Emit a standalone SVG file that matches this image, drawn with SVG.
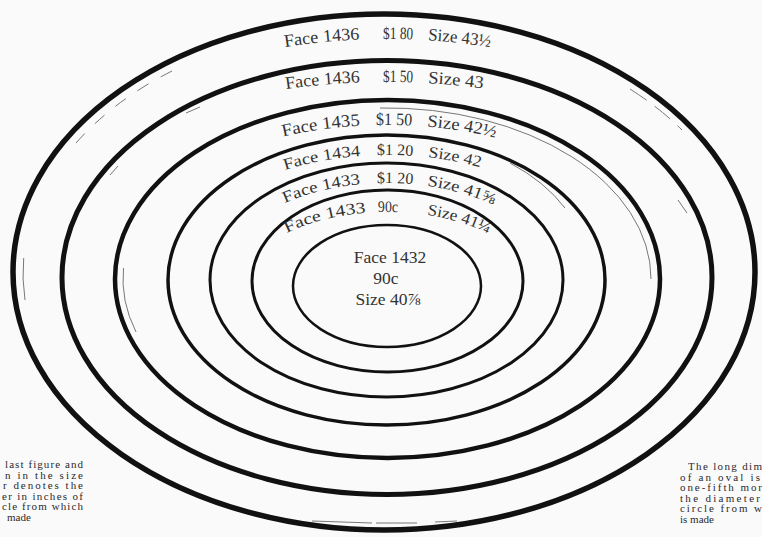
<svg xmlns="http://www.w3.org/2000/svg" width="762" height="537" viewBox="0 0 762 537">
<style>
.ring{fill:none;stroke:#111}
.guide{fill:none;stroke:#777;stroke-width:1}
.lbl{font-family:"Liberation Serif","Times New Roman",serif;font-size:17.5px;fill:#333}
.sm{font-size:16px}
.note{font-family:"Liberation Serif","Times New Roman",serif;font-size:11px;fill:#2a2a2a}
</style>
<defs>
<path id="a1" d="M285,47 A400,241 0 0 1 375,39.1"/>
<path id="b1" d="M383,39 A400,241 0 0 1 428,40.3"/>
<path id="c1" d="M428,40.3 A400,241 0 0 1 505,49.7"/>
<path id="a2" d="M286,89.1 A380,198 0 0 1 375,82.1"/>
<path id="b2" d="M383,82 A380,198 0 0 1 428,83.2"/>
<path id="c2" d="M428,83.2 A380,198 0 0 1 498,90.6"/>
<path id="a3" d="M283,136.5 A275,155 0 0 1 375,125.15"/>
<path id="b3" d="M376,125.1 A275,155 0 0 1 427,126.65"/>
<path id="c3" d="M427,126.65 A275,155 0 0 1 510,141.4"/>
<path id="a4" d="M285,170 A215,125 0 0 1 375,155.2"/>
<path id="b4" d="M377,155.13 A215,125 0 0 1 428,157.3"/>
<path id="c4" d="M428,157.3 A215,125 0 0 1 495,171.9"/>
<path id="a5" d="M285,202.9 A168,97 0 0 1 375,183.25"/>
<path id="b5" d="M377,183.17 A168,97 0 0 1 427,185.8"/>
<path id="c5" d="M427,185.8 A168,97 0 0 1 507,212.1"/>
<path id="a6" d="M287,233.1 A138,68 0 0 1 380,212.1"/>
<path id="b6" d="M378,212.14 A138,68 0 0 1 412,213.1"/>
<path id="c6" d="M427,214.92 A138,68 0 0 1 500,241"/>
</defs>
<rect width="762" height="537" fill="#fafafa"/>
<g id="guides">
<path class="guide" d="M76,143 A362,250 0 0 1 172,71" stroke-dasharray="13 14"/>
<path class="guide" d="M630,89 A362,250 0 0 1 682,130" stroke-dasharray="20 10"/>
<path class="guide" d="M23.7,258 A362,250 0 0 0 25,300"/>
<path class="guide" d="M312,521 L372,523 M376,523 L417,523 M435,522 L457,521"/>
<path class="guide" d="M186,113 L200,107 M110,175 L118,166 M678,200 L687,213" stroke="#888"/>
<path class="guide" d="M380,108 A264,171 0 0 1 651,279"/>
<path class="guide" d="M123.5,268 A264,171 0 0 0 136,332"/>
<path class="guide" d="M510,163 A207,137 0 0 1 565,208"/>
</g>
<g id="oval-1">
<ellipse class="ring" cx="384" cy="272" rx="371" ry="258" stroke-width="5.5"/>
<text class="lbl"><textPath href="#a1" textLength="75" lengthAdjust="spacingAndGlyphs">Face 1436</textPath></text>
<text class="lbl"><textPath href="#b1" textLength="30" lengthAdjust="spacingAndGlyphs">$1 80</textPath></text>
<text class="lbl"><textPath href="#c1" textLength="62.6" lengthAdjust="spacingAndGlyphs">Size 43½</textPath></text>
</g>
<g id="oval-2">
<ellipse class="ring" cx="387" cy="277.5" rx="325" ry="217" stroke-width="5"/>
<text class="lbl"><textPath href="#a2" textLength="74.3" lengthAdjust="spacingAndGlyphs">Face 1436</textPath></text>
<text class="lbl"><textPath href="#b2" textLength="30" lengthAdjust="spacingAndGlyphs">$1 50</textPath></text>
<text class="lbl"><textPath href="#c2" textLength="55.2" lengthAdjust="spacingAndGlyphs">Size 43</textPath></text>
</g>
<g id="oval-3">
<ellipse class="ring" cx="387.5" cy="279" rx="272.5" ry="179" stroke-width="4.5"/>
<text class="lbl"><textPath href="#a3" textLength="78" lengthAdjust="spacingAndGlyphs">Face 1435</textPath></text>
<text class="lbl"><textPath href="#b3" textLength="36" lengthAdjust="spacingAndGlyphs">$1 50</textPath></text>
<text class="lbl"><textPath href="#c3" textLength="69" lengthAdjust="spacingAndGlyphs">Size 42½</textPath></text>
</g>
<g id="oval-4">
<ellipse class="ring" cx="386.5" cy="280" rx="218.5" ry="145" stroke-width="3.5"/>
<text class="lbl sm"><textPath href="#a4" textLength="77" lengthAdjust="spacingAndGlyphs">Face 1434</textPath></text>
<text class="lbl sm"><textPath href="#b4" textLength="36" lengthAdjust="spacingAndGlyphs">$1 20</textPath></text>
<text class="lbl sm"><textPath href="#c4" textLength="53" lengthAdjust="spacingAndGlyphs">Size 42</textPath></text>
</g>
<g id="oval-5">
<ellipse class="ring" cx="386.5" cy="280" rx="176.5" ry="117" stroke-width="3"/>
<text class="lbl sm"><textPath href="#a5" textLength="78" lengthAdjust="spacingAndGlyphs">Face 1433</textPath></text>
<text class="lbl sm"><textPath href="#b5" textLength="36" lengthAdjust="spacingAndGlyphs">$1 20</textPath></text>
<text class="lbl sm"><textPath href="#c5" textLength="69" lengthAdjust="spacingAndGlyphs">Size 41⅝</textPath></text>
</g>
<g id="oval-6">
<ellipse class="ring" cx="387.5" cy="281" rx="135.5" ry="91" stroke-width="3"/>
<text class="lbl sm"><textPath href="#a6" textLength="82" lengthAdjust="spacingAndGlyphs">Face 1433</textPath></text>
<text class="lbl sm"><textPath href="#b6" textLength="20" lengthAdjust="spacingAndGlyphs">90c</textPath></text>
<text class="lbl sm"><textPath href="#c6" textLength="64" lengthAdjust="spacingAndGlyphs">Size 41¼</textPath></text>
</g>
<g id="oval-7">
<ellipse class="ring" cx="387" cy="286" rx="94" ry="61" stroke-width="2.5"/>
<text class="lbl" text-anchor="middle"><tspan x="390" y="263">Face 1432</tspan><tspan x="386" y="284">90c</tspan><tspan x="388" y="305">Size 40⅞</tspan></text>
</g>
<g id="note-left">
<text class="note"><tspan x="5" y="468" textLength="78">last figure and</tspan><tspan x="5" y="478.5" textLength="78">n in the size</tspan><tspan x="3" y="489" textLength="80">r denotes the</tspan><tspan x="2" y="499.5" textLength="81">er in inches of</tspan><tspan x="2" y="510" textLength="81">cle from which</tspan><tspan x="7" y="520.5">made</tspan></text>
</g>
<g id="note-right">
<text class="note"><tspan x="688" y="470" textLength="74">The long dim</tspan><tspan x="680" y="480.5" textLength="80">of an oval is</tspan><tspan x="680" y="491" textLength="82">one-fifth mor</tspan><tspan x="680" y="501.5" textLength="80">the diameter</tspan><tspan x="680" y="512" textLength="82">circle from w</tspan><tspan x="680" y="522.5">is made</tspan></text>
</g>
</svg>
